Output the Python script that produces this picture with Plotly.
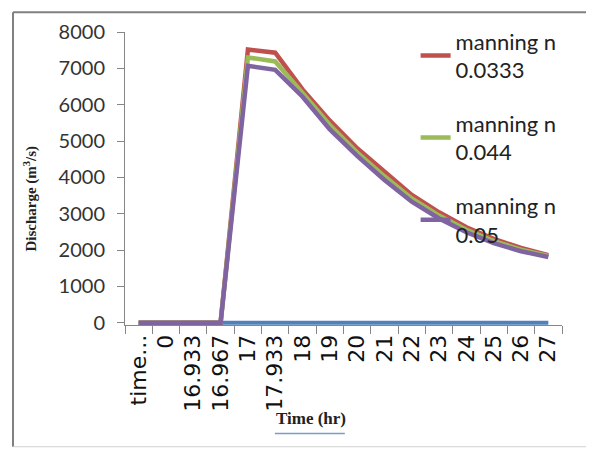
import plotly.graph_objects as go

categories = ["time...", "0", "16.933", "16.967", "17", "17.933", "18", "19",
              "20", "21", "22", "23", "24", "25", "26", "27"]
baseline = [0, 0, 0, 0, 0, 0, 0, 0, 0, 0, 0, 0, 0, 0, 0, 0]
n_0333 = [0, 0, 0, 0, 7520, 7430, 6420, 5560, 4800, 4140, 3520, 3040, 2630, 2310, 2060, 1860]
n_044 = [0, 0, 0, 0, 7300, 7190, 6320, 5440, 4690, 4030, 3420, 2950, 2560, 2250, 2010, 1840]
n_05 = [0, 0, 0, 0, 7070, 6960, 6220, 5320, 4590, 3930, 3330, 2870, 2490, 2190, 1970, 1810]

names = ["manning n<br>0.0333", "manning n<br>0.044", "manning n<br>0.05"]
colors = ["#C0504D", "#9BBB59", "#8064A2"]

fig = go.Figure()
fig.add_trace(go.Scatter(x=categories, y=baseline, mode="lines", cliponaxis=False,
                         line=dict(color="#4F81BD", width=4), showlegend=False,
                         name="baseline"))
for i, (vals, nm, col) in enumerate(zip([n_0333, n_044, n_05], names, colors)):
    fig.add_trace(go.Scatter(x=categories, y=vals, mode="lines", name=nm,
                             legendgroup="g%d" % i, cliponaxis=False,
                             line=dict(color=col, width=4.5)))

fig.update_layout(
    width=594, height=450,
    margin=dict(l=117, r=40, t=21, b=133),
    paper_bgcolor="white", plot_bgcolor="white",
    showlegend=True,
    legend=dict(x=0.665, y=1.04, xanchor="left", yanchor="top", maxheight=420,
                bgcolor="rgba(0,0,0,0)", font=dict(family="Lato", size=22, color="#222"),
                traceorder="grouped", tracegroupgap=22),
    xaxis=dict(type="category", tickson="boundaries", ticks="outside", ticklen=8,
               tickcolor="#868686", showline=True, linecolor="#868686", linewidth=1,
               showgrid=False, tickangle=-90, range=[-0.5, 15.5], layer="below traces",
               tickfont=dict(family="DejaVu Sans", size=22, color="#111")),
    yaxis=dict(range=[-60, 8000], tickvals=[0, 1000, 2000, 3000, 4000, 5000, 6000, 7000, 8000],
               ticks="outside", ticklen=7, tickcolor="#868686", showline=True,
               linecolor="#868686", linewidth=1, showgrid=False, zeroline=False,
               ticklabelstandoff=8,
               tickfont=dict(family="Lato", size=20, color="#333")),
)

fig.add_annotation(text="<b>Discharge (m<sup>3</sup>/s)</b>", xref="paper", yref="paper",
                   x=-0.217, y=0.432, xanchor="center", yanchor="middle",
                   textangle=-90, showarrow=False,
                   font=dict(family="Liberation Serif", size=15, color="#222"))
fig.add_annotation(text="<b>Time (hr)</b>", xref="paper", yref="paper",
                   x=0.4256, y=-0.318, xanchor="center", yanchor="middle",
                   showarrow=False, bgcolor="white",
                   font=dict(family="Liberation Serif", size=17, color="#222"))
fig.add_shape(type="line", xref="paper", yref="paper", x0=0.343, x1=0.503,
              y0=-0.37, y1=-0.37, line=dict(color="#7A9CC8", width=1.5))

# frame
fig.add_shape(type="line", xref="paper", yref="paper", x0=-0.2563, x1=-0.2563,
              y0=-0.4155, y1=1.0676, line=dict(color="#808080", width=2))
fig.add_shape(type="line", xref="paper", yref="paper", x0=-0.2563, x1=1.064,
              y0=1.0676, y1=1.0676, line=dict(color="#808080", width=2))
fig.add_shape(type="line", xref="paper", yref="paper", x0=1.064, x1=1.064,
              y0=-0.4155, y1=1.0676, line=dict(color="#d0d0d0", width=1))
fig.add_shape(type="line", xref="paper", yref="paper", x0=-0.2563, x1=1.064,
              y0=-0.4155, y1=-0.4155, line=dict(color="#d0d0d0", width=1))

fig.write_html("out.html")
